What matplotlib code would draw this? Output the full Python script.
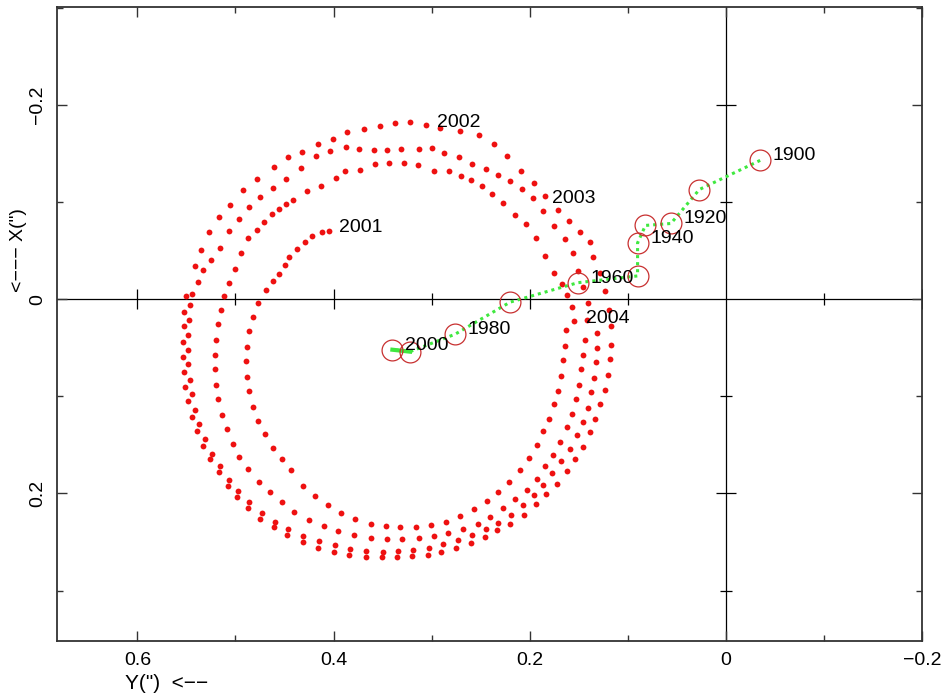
import matplotlib
matplotlib.use("Agg")
import matplotlib.pyplot as plt
from matplotlib.ticker import MultipleLocator, FixedFormatter, FixedLocator

plt.rcParams["font.family"] = ["Liberation Sans", "DejaVu Sans"]

# ---------- Data (arcsec) ----------
# red predicted positions, read off the picture pass by pass
# upper halves (left side -> over the top -> down the right side)
outer_x = [0.550, 0.541, 0.535, 0.527, 0.517, 0.506, 0.492, 0.478, 0.461, 0.446,
           0.432, 0.416, 0.401, 0.386, 0.369, 0.353, 0.337, 0.322, 0.306, 0.291,
           0.271, 0.252, 0.236, 0.223, 0.209, 0.196, 0.184, 0.171, 0.160, 0.149,
           0.139, 0.135, 0.128, 0.123, 0.119, 0.117]
outer_y = [-0.003, -0.034, -0.051, -0.069, -0.085, -0.097, -0.112, -0.124, -0.136, -0.146,
           -0.152, -0.160, -0.165, -0.172, -0.175, -0.178, -0.181, -0.183, -0.179, -0.176,
           -0.173, -0.169, -0.160, -0.147, -0.132, -0.120, -0.106, -0.092, -0.081, -0.069,
           -0.059, -0.044, -0.027, -0.008, 0.011, 0.028]

middle_x = [0.544, 0.538, 0.533, 0.525, 0.516, 0.507, 0.496, 0.486, 0.475, 0.462,
            0.448, 0.433, 0.418, 0.404, 0.387, 0.374, 0.359, 0.345, 0.331, 0.313,
            0.300, 0.287, 0.272, 0.259, 0.245, 0.232, 0.220, 0.208, 0.197, 0.186,
            0.175, 0.164, 0.156, 0.151, 0.146, 0.141, 0.142]
middle_y = [-0.005, -0.018, -0.030, -0.040, -0.053, -0.070, -0.083, -0.095, -0.105, -0.115,
            -0.124, -0.135, -0.148, -0.153, -0.157, -0.155, -0.154, -0.154, -0.155, -0.155,
            -0.156, -0.151, -0.146, -0.139, -0.134, -0.128, -0.122, -0.114, -0.104, -0.091,
            -0.075, -0.062, -0.048, -0.029, -0.013, 0.004, 0.021]

inner_x = [0.512, 0.507, 0.501, 0.494, 0.487, 0.478, 0.471, 0.463, 0.456, 0.449,
           0.441, 0.427, 0.413, 0.398, 0.388, 0.373, 0.358, 0.343, 0.328, 0.314,
           0.298, 0.282, 0.270, 0.260, 0.249, 0.238, 0.227, 0.215, 0.204, 0.194,
           0.184, 0.175, 0.167, 0.162, 0.157, 0.155]
inner_y = [-0.003, -0.017, -0.031, -0.048, -0.063, -0.071, -0.080, -0.088, -0.093, -0.098,
           -0.102, -0.111, -0.117, -0.125, -0.132, -0.133, -0.139, -0.140, -0.140, -0.138,
           -0.132, -0.132, -0.127, -0.123, -0.117, -0.108, -0.099, -0.087, -0.077, -0.063,
           -0.045, -0.027, -0.016, -0.004, 0.008, 0.022]

start_x = [0.405, 0.412, 0.422, 0.429, 0.437, 0.445, 0.450, 0.456, 0.462, 0.469]
start_y = [-0.070, -0.069, -0.065, -0.059, -0.052, -0.044, -0.035, -0.026, -0.019, -0.010]

# lower halves (left side -> under the bottom -> up the right side)
low1_x = [0.552, 0.553, 0.554, 0.554, 0.553, 0.551, 0.548, 0.544, 0.539, 0.533,
          0.526, 0.517, 0.508, 0.498, 0.487, 0.475, 0.461, 0.447, 0.431, 0.416,
          0.400, 0.384, 0.367, 0.351, 0.335, 0.320, 0.304, 0.290, 0.275, 0.260,
          0.246, 0.233, 0.220, 0.206, 0.194, 0.183, 0.172, 0.162, 0.154, 0.146,
          0.139, 0.133, 0.128, 0.123, 0.120, 0.118, 0.117]
low1_y = [0.013, 0.028, 0.044, 0.059, 0.075, 0.090, 0.105, 0.121, 0.136, 0.151,
          0.165, 0.178, 0.192, 0.204, 0.215, 0.226, 0.235, 0.243, 0.250, 0.256,
          0.260, 0.263, 0.265, 0.265, 0.265, 0.264, 0.263, 0.260, 0.256, 0.251,
          0.245, 0.238, 0.231, 0.222, 0.211, 0.201, 0.190, 0.177, 0.165, 0.152,
          0.137, 0.123, 0.108, 0.093, 0.078, 0.062, 0.047]

low2_x = [0.546, 0.547, 0.548, 0.548, 0.548, 0.546, 0.544, 0.541, 0.537, 0.531,
          0.524, 0.516, 0.507, 0.497, 0.486, 0.473, 0.460, 0.446, 0.431, 0.415,
          0.399, 0.383, 0.367, 0.350, 0.334, 0.319, 0.303, 0.288, 0.273, 0.259,
          0.245, 0.232, 0.219, 0.207, 0.196, 0.186, 0.177, 0.168, 0.159, 0.152,
          0.146, 0.141, 0.137, 0.134, 0.132, 0.131, 0.131]
low2_y = [0.006, 0.021, 0.037, 0.052, 0.067, 0.083, 0.098, 0.114, 0.129, 0.144,
          0.159, 0.172, 0.186, 0.198, 0.209, 0.220, 0.229, 0.237, 0.244, 0.249,
          0.253, 0.257, 0.259, 0.260, 0.259, 0.258, 0.256, 0.252, 0.248, 0.243,
          0.237, 0.230, 0.222, 0.212, 0.202, 0.191, 0.179, 0.167, 0.154, 0.140,
          0.126, 0.112, 0.096, 0.081, 0.065, 0.050, 0.035]

low3_x = [0.515, 0.518, 0.520, 0.521, 0.521, 0.520, 0.518, 0.514, 0.509, 0.503,
          0.496, 0.487, 0.476, 0.465, 0.453, 0.440, 0.425, 0.410, 0.395, 0.379,
          0.362, 0.346, 0.330, 0.313, 0.298, 0.283, 0.268, 0.253, 0.240, 0.227,
          0.215, 0.203, 0.193, 0.184, 0.176, 0.169, 0.162, 0.157, 0.153, 0.150,
          0.148, 0.146, 0.144]
low3_y = [0.011, 0.026, 0.042, 0.057, 0.072, 0.088, 0.103, 0.119, 0.134, 0.149,
          0.162, 0.175, 0.188, 0.199, 0.209, 0.219, 0.227, 0.234, 0.239, 0.243,
          0.246, 0.247, 0.247, 0.246, 0.244, 0.241, 0.237, 0.231, 0.224, 0.215,
          0.206, 0.196, 0.185, 0.172, 0.160, 0.147, 0.132, 0.118, 0.103, 0.088,
          0.072, 0.057, 0.042]

low4_x = [0.477, 0.482, 0.486, 0.488, 0.489, 0.488, 0.486, 0.482, 0.477, 0.470,
          0.462, 0.453, 0.443, 0.431, 0.419, 0.406, 0.392, 0.378, 0.362, 0.347,
          0.332, 0.316, 0.301, 0.285, 0.271, 0.257, 0.244, 0.232, 0.221, 0.210,
          0.201, 0.193, 0.186, 0.180, 0.175, 0.171, 0.168, 0.166, 0.164, 0.163]
low4_y = [0.004, 0.018, 0.033, 0.049, 0.064, 0.080, 0.095, 0.111, 0.125, 0.139,
          0.153, 0.165, 0.176, 0.192, 0.203, 0.212, 0.220, 0.226, 0.231, 0.234,
          0.235, 0.235, 0.233, 0.229, 0.223, 0.216, 0.208, 0.199, 0.188, 0.176,
          0.164, 0.150, 0.136, 0.123, 0.108, 0.094, 0.079, 0.063, 0.048, 0.032]

# year labels on the red track: (x, y) of the point they mark
red_years = ["2001", "2002", "2003", "2004"]
red_year_x = [0.406, 0.306, 0.189, 0.154]
red_year_y = [-0.069, -0.177, -0.099, 0.024]

# green measured track, one point per decade 1900..2000
track_years = [1900, 1910, 1920, 1930, 1940, 1950, 1960, 1970, 1980, 1990, 2000]
track_x = [-0.035, 0.027, 0.056, 0.082, 0.090, 0.090, 0.151, 0.220, 0.276, 0.322, 0.340]
track_y = [-0.143, -0.113, -0.078, -0.076, -0.058, -0.024, -0.017, 0.003, 0.036, 0.054, 0.052]

# ---------- Plot ----------
fig = plt.figure(figsize=(9.5, 6.96), dpi=100)
ax = fig.add_axes([0.06, 0.079, 0.9105, 0.911])

ax.set_xlim(0.682, -0.2)
ax.set_ylim(0.352, -0.301)

ax.axhline(0, color="black", lw=0.9, zorder=1)
ax.axvline(0, color="black", lw=0.9, zorder=1)

# tick marks crossing the zero lines
major = [0.6, 0.4, 0.2, -0.2]
minor = [0.5, 0.3, 0.1, -0.1]
ax.plot(major, [0] * len(major), ls="none", marker="|", ms=14, mew=0.9, color="black", zorder=1)
ax.plot(minor, [0] * len(minor), ls="none", marker="|", ms=8.5, mew=0.9, color="black", zorder=1)
ax.plot([0, 0], [-0.2, 0.2], ls="none", marker="_", ms=14, mew=0.9, color="black", zorder=1)
ax.plot([0, 0, 0], [-0.1, 0.1, 0.3], ls="none", marker="_", ms=8.5, mew=0.9, color="black", zorder=1)

red = "#ee1111"
passes = [(outer_x, outer_y), (middle_x, middle_y), (inner_x, inner_y), (start_x, start_y),
          (low1_x, low1_y), (low2_x, low2_y), (low3_x, low3_y), (low4_x, low4_y)]
for xs, ys in passes:
    ax.plot(xs, ys, ls="none", marker="o", ms=4.2, mew=0, color=red, zorder=3)

green = "#3fe83f"
ax.plot(track_x, track_y, ls=(0, (1.0, 1.3)), lw=2.2, color=green,
        dash_capstyle="butt", zorder=4)
ax.plot(track_x[-2:], track_y[-2:], lw=3, color=green, zorder=4)
ax.plot(track_x, track_y, ls="none", marker="o", ms=15, mfc="none",
        mec="#c83030", mew=0.9, zorder=5)

for yr, x, y in zip(track_years, track_x, track_y):
    if yr % 20 == 0:
        ax.annotate(str(yr), (x, y), xytext=(9, 0), textcoords="offset points",
                    fontsize=14, va="baseline", ha="left", zorder=6)

for lab, x, y in zip(red_years, red_year_x, red_year_y):
    ax.annotate(lab, (x, y), xytext=(8, 0), textcoords="offset points",
                fontsize=14, va="baseline", ha="left", zorder=6)

ax.xaxis.set_major_locator(FixedLocator([0.6, 0.4, 0.2, 0, -0.2]))
ax.xaxis.set_major_formatter(FixedFormatter(["0.6", "0.4", "0.2", "0", "\u22120.2"]))
ax.xaxis.set_minor_locator(MultipleLocator(0.1))
ax.yaxis.set_major_locator(FixedLocator([-0.2, 0, 0.2]))
ax.yaxis.set_major_formatter(FixedFormatter(["\u22120.2", "0", "0.2"]))
ax.yaxis.set_minor_locator(MultipleLocator(0.1))

ax.tick_params(which="both", direction="in", top=True, right=True, width=1, color="#333333")
ax.tick_params(which="major", length=7, labelsize=14, pad=8)
ax.tick_params(which="minor", length=4)
plt.setp(ax.get_yticklabels(), rotation=90, va="center")

for s in ax.spines.values():
    s.set_linewidth(1.3)
    s.set_color("#333333")

fig.text(0.132, 0.018, "Y(\")  <\u2212\u2212", fontsize=15, ha="left", va="center")
fig.text(0.019, 0.64, "<\u2212\u2212\u2212 X(\")", fontsize=14, rotation=90, ha="center", va="center")

fig.savefig("out.png", dpi=100)
